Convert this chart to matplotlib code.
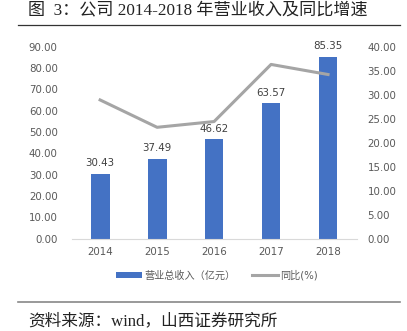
import matplotlib.pyplot as plt
import numpy as np

plt.rcParams['font.family'] = ['DejaVu Sans', 'Noto Sans CJK SC']

years = ['2014', '2015', '2016', '2017', '2018']
revenue = [30.43, 37.49, 46.62, 63.57, 85.35]
growth = [28.9, 23.2, 24.4, 36.3, 34.2]

fig = plt.figure(figsize=(4.07, 3.31), dpi=100)
ax = fig.add_axes([0.176, 0.279, 0.70, 0.58])
ax2 = ax.twinx()

x = np.arange(len(years))
bars = ax.bar(x, revenue, width=0.33, color='#4472C4', zorder=2, label='营业总收入（亿元）')
ln, = ax2.plot(x, growth, color='#A5A5A5', lw=2.2, label='同比(%)')

for xi, v in zip(x, revenue):
    ax.text(xi, v + 2.5, f'{v:.2f}', ha='center', va='bottom', fontsize=7.4, color='#404040')

ax.set_xlim(-0.5, 4.5)
ax.set_ylim(0, 90)
ax.set_yticks(np.arange(0, 91, 10))
ax.set_yticklabels([f'{v:.2f}' for v in np.arange(0, 91, 10)])
ax2.set_ylim(0, 40)
ax2.set_yticks(np.arange(0, 41, 5))
ax2.set_yticklabels([f'{v:.2f}' for v in np.arange(0, 41, 5)])
ax.set_xticks(x)
ax.set_xticklabels(years)

for a in (ax, ax2):
    for s in a.spines.values():
        s.set_visible(False)
    a.tick_params(length=0, labelsize=7.4, colors='#595959')
ax.spines['bottom'].set_visible(True)
ax.spines['bottom'].set_color('#D9D9D9')
ax.tick_params(axis='y', pad=10)
ax.tick_params(axis='x', pad=6)
ax2.tick_params(axis='y', pad=8)

fig.legend(handles=[bars, ln], loc='center', bbox_to_anchor=(0.533, 0.168), ncol=2,
           frameon=False, fontsize=7.3, handlelength=2.6, handleheight=0.6,
           columnspacing=1.6, handletextpad=0.2, labelcolor='#595959')

fig.text(0.07, 0.968, '图  3：公司 2014-2018 年营业收入及同比增速', fontsize=12.3,
         va='center', ha='left', color='#222222', family=['Liberation Serif', 'Noto Sans CJK SC'])
fig.add_artist(plt.Line2D([0.045, 0.983], [0.925, 0.925], color='#333333', lw=0.9))
fig.add_artist(plt.Line2D([0.045, 0.983], [0.088, 0.088], color='#888888', lw=1.2))
fig.text(0.07, 0.03, '资料来源：wind，山西证券研究所', fontsize=12,
         va='center', ha='left', color='#222222', family=['Liberation Serif', 'Noto Sans CJK SC'])

fig.savefig('out.png', dpi=100)
